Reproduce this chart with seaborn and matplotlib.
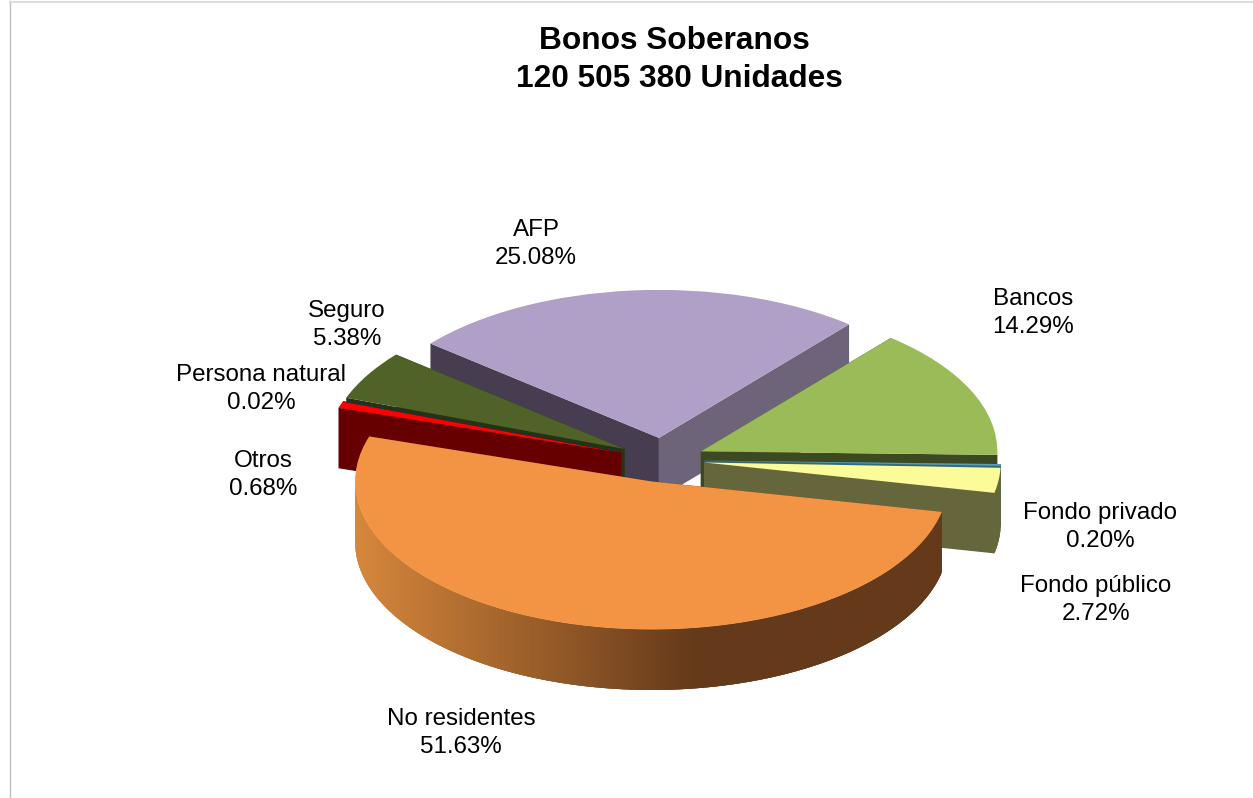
#!/usr/bin/env python3
'''
exploded 3d style pie of bonos soberanos holders, seaborn theme + plain matplotlib pie
'''
import numpy as np
import seaborn as sns
import matplotlib
matplotlib.use('Agg')
import matplotlib.pyplot as plt
from matplotlib.colors import to_rgb

# clockwise from the top of the pie
categories = ['AFP', 'Bancos', 'Fondo privado', 'Fondo público',
              'No residentes', 'Otros', 'Persona natural', 'Seguro']
shares = [25.08, 14.29, 0.20, 2.72, 51.63, 0.68, 0.02, 5.38]
title_lines = ['Bonos Soberanos', '120 505 380 Unidades']

top_colors = ['#B09FC6', '#9BBB59', '#5C9BB0', '#FBFB99',
              '#F39444', '#FF0000', '#1F497D', '#4F6228']
side_colors = ['#6E6479', '#3D4A21', '#2F6B7C', '#66663C',
               '#653A1A', '#660000', '#132C4B', '#263214']
explode = [0.15, 0.14, 0.14, 0.14, 0.15, 0.15, 0.15, 0.15]

W, H = 1253, 798
CX, CY = 663, 460        # pie centre, pixels
RX, RY = 296.5, 148      # radius on screen
DEPTH = 60.5 / RY
START = 140.4
# painter order, back to front
draw_order = ['AFP', 'Seguro', 'Persona natural', 'Otros', 'Bancos',
              'Fondo privado', 'Fondo público', 'No residentes']
# label centres on the page (x, y), pixels
label_pos = {'AFP': (536, 244), 'Bancos': (1033, 313), 'Seguro': (347, 325),
             'Persona natural': (261, 389), 'Otros': (263, 475),
             'Fondo privado': (1100, 527), 'Fondo público': (1096, 600),
             'No residentes': (461, 733)}

sns.set_theme(style='white')
plt.rcParams['font.family'] = ['Liberation Sans', 'DejaVu Sans']

fig = plt.figure(figsize=(W / 100, H / 100), dpi=100)
ax = fig.add_axes([10 / W, 0, 1 - 10 / W, 1 - 1.5 / H])

wedges, _ = ax.pie(shares, colors=top_colors, explode=explode,
                   startangle=START, counterclock=False, frame=True,
                   wedgeprops={'linewidth': 0})

ax.set_aspect('auto')
ax.set_xlim((10 - CX) / RX, (W - CX) / RX)
ax.set_ylim((CY - H) / RY, (CY - 1.5) / RY)
ax.set_xticks([])
ax.set_yticks([])
for side in ['right', 'bottom']:
    ax.spines[side].set_visible(False)
ax.spines['left'].set_color('#BDBDBD')
ax.spines['left'].set_linewidth(1.0)
ax.spines['top'].set_color('#DEDEDE')
ax.spines['top'].set_linewidth(1.5)

# slice edges in degrees, going clockwise
edges = START - np.cumsum([0] + shares) * 3.6


def orange_side(x):
    '''left to right shading of the big slice rim'''
    t = np.clip((x + 1.04) / 1.14, 0, 1)
    return tuple((1 - t) * np.array(to_rgb('#D6873B')) + t * np.array(to_rgb('#653A1A')))


def draw_sides(name, z):
    i = categories.index(name)
    a0, a1 = edges[i], edges[i + 1]
    mid = np.radians((a0 + a1) / 2)
    ox, oy = explode[i] * np.cos(mid), explode[i] * np.sin(mid)
    col = side_colors[i]

    # the two flat cuts, AFP shows a darker one on its left
    for ang, c in [(a0, '#463E50' if name == 'AFP' else col), (a1, col)]:
        rx, ry = ox + np.cos(np.radians(ang)), oy + np.sin(np.radians(ang))
        ax.fill([ox, rx, rx, ox], [oy, ry, ry - DEPTH, oy - DEPTH],
                color=c, lw=0, zorder=z)

    # curved rim, small overlapping strips so no seams show
    angs = np.linspace(a0, a1, max(int(abs(a1 - a0)) * 2, 3) + 1)
    for k in range(len(angs) - 1):
        b0, b1 = angs[k], angs[min(k + 3, len(angs) - 1)]
        if np.sin(np.radians(angs[k])) > 0.02:
            continue
        seg = np.radians(np.linspace(b0, b1, 5))
        xs = ox + np.cos(seg)
        ys = oy + np.sin(seg)
        c = orange_side(xs[1]) if name == 'No residentes' else col
        ax.fill(np.r_[xs, xs[::-1]], np.r_[ys, ys[::-1] - DEPTH],
                color=c, lw=0, zorder=z)


for n, name in enumerate(draw_order):
    z = 2 + n * 2
    draw_sides(name, z)
    wedges[categories.index(name)].set_zorder(z + 1)

for name, value in zip(categories, shares):
    x, y = label_pos[name]
    fig.text(x / W, 1 - y / H, f'{name}\n{value:.2f}%', ha='center', va='center',
             fontsize=17.4, color='black', linespacing=1.34)

fig.text(674 / W, 1 - 41 / H, title_lines[0], ha='center', va='center',
         fontsize=22.8, fontweight='bold', color='black')
fig.text(679 / W, 1 - 79 / H, title_lines[1], ha='center', va='center',
         fontsize=22.8, fontweight='bold', color='black')

fig.savefig('out.png', dpi=100, facecolor='white')
